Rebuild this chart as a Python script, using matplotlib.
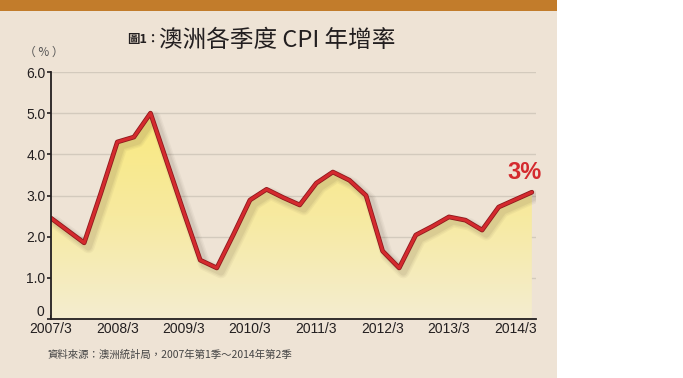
import numpy as np
import matplotlib
matplotlib.use("Agg")
import matplotlib.pyplot as plt
import matplotlib.patheffects as pe
from matplotlib.colors import LinearSegmentedColormap
from matplotlib.patches import Rectangle

# ============================================================
# DATA  (quarterly CPI yoy %, 2007Q1 .. 2014Q2)
# ============================================================
quarters = np.arange(30)
cpi = [2.45, 2.15, 1.85, 3.05, 4.3, 4.42, 5.0, 3.8, 2.6, 1.43,
       1.24, 2.05, 2.89, 3.15, 2.95, 2.77, 3.3, 3.57, 3.37, 3.0,
       1.65, 1.24, 2.04, 2.25, 2.48, 2.4, 2.16, 2.72, 2.9, 3.08]
year_ticks = [0, 4, 8, 12, 16, 20, 24, 28]
year_labels = ["2007/3", "2008/3", "2009/3", "2010/3",
               "2011/3", "2012/3", "2013/3", "2014/3"]
y_ticks = [0, 1, 2, 3, 4, 5, 6]
y_labels = ["0", "1.0", "2.0", "3.0", "4.0", "5.0", "6.0"]

title_main = "澳洲各季度 CPI 年增率"
source_txt = "資料來源：澳洲統計局，2007年第1季～2014年第2季"

cjk = ["Noto Sans CJK TC", "DejaVu Sans"]
narrow = ["Liberation Sans Narrow", "Liberation Sans", "DejaVu Sans"]

BG = "#EEE3D5"
ORANGE = "#C27C2B"
RED = "#D42A2E"
INK = "#231F20"

# ============================================================
# FIGURE
# ============================================================
fig = plt.figure(figsize=(6.83, 3.78), dpi=100)
fig.patch.set_facecolor("white")
fig.patches.append(Rectangle((0, 0), 557/683, 1, transform=fig.transFigure,
                             facecolor=BG, edgecolor="none", zorder=-10))
fig.patches.append(Rectangle((0, 1 - 11/378), 557/683, 11/378,
                             transform=fig.transFigure,
                             facecolor=ORANGE, edgecolor="none", zorder=-9))

ax = fig.add_axes([51/683, 59/378, 485/683, 247/378])
ax.set_facecolor("none")
ax.set_xlim(0, 29.25)
ax.set_ylim(0, 6)

# grid
for v in y_ticks[1:]:
    ax.axhline(v, color="#D3CABD", lw=1.0, zorder=1)

# gradient fill under the curve
fill = ax.fill_between(quarters, cpi, 0, color="none", zorder=2)
cmap = LinearSegmentedColormap.from_list("yel", ["#F4EDD0", "#F7EAA0", "#F9E97F"])
grad = np.linspace(0, 1, 256).reshape(-1, 1)
im = ax.imshow(grad, cmap=cmap, origin="lower", aspect="auto",
               extent=(0, 29.25, 0, 5.0), zorder=2)
im.set_clip_path(fill.get_paths()[0], transform=ax.transData)

# soft shadow (several faint offset strokes)
shadow = []
for w, a in [(9, 0.05), (7, 0.06), (5, 0.08)]:
    shadow.append(pe.SimpleLineShadow(offset=(3, -3), shadow_color="#5a4a3a",
                                      alpha=a, linewidth=w))
ax.plot(quarters, cpi, color=RED, lw=2.2, zorder=4, solid_joinstyle="round",
        solid_capstyle="round",
        path_effects=shadow + [pe.Stroke(linewidth=3.4, foreground="#8E1A1D"),
                               pe.Normal()])

# axes styling
for s in ["top", "right"]:
    ax.spines[s].set_visible(False)
for s in ["left", "bottom"]:
    ax.spines[s].set_color(INK)
    ax.spines[s].set_linewidth(1.3)
    ax.spines[s].set_zorder(5)

ax.set_xticks(year_ticks)
ax.set_xticklabels(year_labels, family=narrow, fontsize=10, color=INK)
ax.tick_params(axis="x", direction="in", length=3, width=1.2, pad=2, color=INK)
ax.set_yticks(y_ticks)
ax.set_yticklabels([""] + y_labels[1:], family=narrow, fontsize=10, color=INK)
ax.tick_params(axis="y", direction="out", length=3, width=1.2, pad=1, color=INK)
# "0" sits a little above the axis line, as in the original
ax.annotate(y_labels[0], xy=(0, y_ticks[0]), xytext=(-5, 0),
            textcoords="offset points", ha="right", va="bottom",
            family=narrow, fontsize=10, color=INK, annotation_clip=False)

# texts
fig.text(44/683, 1 - 52/378, "（ % ）", family=cjk, fontsize=8.5, color="#555555",
         ha="center", va="center")
fig.text(127/683, 1 - 40/378, "圖1：", family=cjk, fontsize=9, fontweight="bold",
         color=INK, ha="left", va="center")
fig.text(277/683, 1 - 40/378, title_main, family=cjk, fontsize=17,
         color=INK, ha="center", va="center")
fig.text(47/683, 1 - 355/378, source_txt, family=cjk, fontsize=7.5,
         color="#444444", ha="left", va="center")
ax.annotate("3%", xy=(29, 3.08), xytext=(-5, 6), textcoords="offset points",
            ha="center", va="bottom", fontsize=17, fontweight="bold",
            color=RED, family=["Liberation Sans", "DejaVu Sans"],
            annotation_clip=False)

fig.savefig("out.png", dpi=100, facecolor=fig.get_facecolor())
